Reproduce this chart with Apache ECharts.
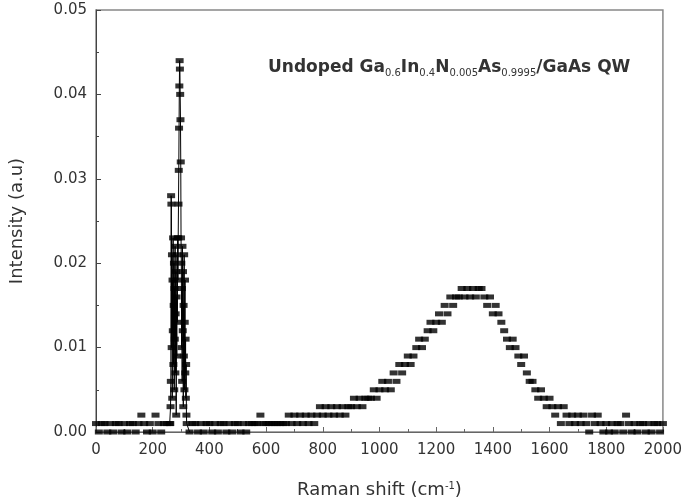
<!DOCTYPE html>
<html>
<head>
<meta charset="utf-8">
<script src="https://cdn.jsdelivr.net/npm/echarts@6/dist/echarts.min.js"></script>
<style>
  html, body { margin: 0; padding: 0; background: #fff; }
  #chart { width: 685px; height: 504px; }
</style>
</head>
<body>
<div id="chart"></div>
<script>
// Raman shift (cm-1)
const ramanShift = [
  // baseline 0-260
  0, 10, 20, 30, 40, 50, 60, 70, 80, 90, 100, 110, 120, 130, 140, 150, 160, 170, 180, 190,
  200, 210, 220, 230, 240, 250, 260,
  // GaAs LO peak
  262, 263, 264, 265, 266, 267, 268, 269, 270, 271, 272, 273, 274, 275, 276, 277, 278, 279, 280,
  281, 282, 283, 284, 285, 286, 287, 288, 289, 290, 291, 292, 293, 294, 295, 296, 297, 298, 299, 300,
  301, 302, 303, 304, 305, 306, 307, 308, 309, 310, 311, 312, 313, 314, 315, 316, 317, 318, 319, 320,
  // baseline 330-660
  330, 340, 350, 360, 370, 380, 390, 400, 410, 420, 430, 440, 450, 460, 470, 480, 490, 500,
  510, 520, 530, 540, 550, 560, 570, 580, 590, 600, 610, 620, 630, 640, 650, 660,
  // broad band
  670, 680, 690, 700, 710, 720, 730, 740, 750, 760, 770, 780, 790, 800, 810, 820, 830, 840, 850, 860,
  870, 880, 890, 900, 910, 920, 930, 940, 950, 960, 970, 980, 990, 1000, 1010, 1020, 1030, 1040, 1050, 1060,
  1070, 1080, 1090, 1100, 1110, 1120, 1130, 1140, 1150, 1160, 1170, 1180, 1190, 1200, 1210, 1220, 1230, 1240, 1250, 1260,
  1270, 1280, 1290, 1300, 1310, 1320, 1330, 1340, 1350, 1360, 1370, 1380, 1390, 1400, 1410, 1420, 1430, 1440, 1450, 1460,
  1470, 1480, 1490, 1500, 1510, 1520, 1530, 1540, 1550, 1560, 1570, 1580, 1590, 1600, 1610, 1620, 1630, 1640, 1650, 1660,
  1670, 1680, 1690, 1700, 1710, 1720, 1730, 1740, 1750, 1760, 1770, 1780, 1790, 1800,
  // baseline 1810-2000
  1810, 1820, 1830, 1840, 1850, 1860, 1870, 1880, 1890, 1900, 1910, 1920, 1930, 1940, 1950, 1960, 1970, 1980, 1990, 2000
];

// Intensity (a.u)
const intensity = [
  0.001, 0, 0.001, 0.001, 0, 0.001, 0, 0.001, 0.001, 0, 0.001, 0, 0.001, 0.001, 0, 0.001, 0.002, 0.001, 0, 0.001,
  0, 0.002, 0.001, 0, 0.001, 0.001, 0.001,

  0.001, 0.003, 0.006, 0.028, 0.027, 0.010, 0.021, 0.004, 0.018, 0.012, 0.023, 0.008, 0.015, 0.020, 0.005, 0.017, 0.011, 0.022, 0.007,
  0.014, 0.019, 0.002, 0.016, 0.009, 0.021, 0.013, 0.023, 0.018, 0.023, 0.027, 0.031, 0.036, 0.041, 0.044, 0.043, 0.040, 0.037, 0.032, 0.023,
  0.020, 0.010, 0.017, 0.006, 0.022, 0.012, 0.019, 0.003, 0.015, 0.009, 0.021, 0.005, 0.013, 0.018, 0.007, 0.011, 0.004, 0.008, 0.002, 0.001,

  0, 0.001, 0.001, 0, 0.001, 0, 0.001, 0.001, 0, 0.001, 0, 0.001, 0.001, 0, 0.001, 0, 0.001, 0.001,
  0, 0.001, 0, 0.001, 0.001, 0.001, 0.001, 0.002, 0.001, 0.001, 0.001, 0.001, 0.001, 0.001, 0.001, 0.001,

  0.001, 0.002, 0.001, 0.002, 0.001, 0.002, 0.001, 0.002, 0.001, 0.002, 0.001, 0.002, 0.003, 0.002, 0.003, 0.002, 0.003, 0.002, 0.003, 0.002,
  0.003, 0.002, 0.003, 0.003, 0.004, 0.003, 0.004, 0.003, 0.004, 0.004, 0.004, 0.005, 0.004, 0.005, 0.006, 0.005, 0.006, 0.005, 0.007, 0.006,
  0.008, 0.007, 0.008, 0.009, 0.008, 0.009, 0.010, 0.011, 0.010, 0.011, 0.012, 0.013, 0.012, 0.013, 0.014, 0.013, 0.015, 0.014, 0.016, 0.015,
  0.016, 0.016, 0.017, 0.016, 0.017, 0.016, 0.017, 0.016, 0.017, 0.017, 0.016, 0.015, 0.016, 0.014, 0.015, 0.014, 0.013, 0.012, 0.011, 0.010,
  0.011, 0.010, 0.009, 0.008, 0.009, 0.007, 0.006, 0.006, 0.005, 0.004, 0.005, 0.004, 0.003, 0.004, 0.003, 0.002, 0.003, 0.001, 0.003, 0.002,
  0.001, 0.002, 0.001, 0.002, 0.001, 0.002, 0.001, 0, 0.002, 0.001, 0.002, 0.001, 0, 0.001,

  0, 0.001, 0, 0.001, 0.001, 0, 0.002, 0.001, 0, 0.001, 0, 0.001, 0.001, 0, 0.001, 0, 0.001, 0.001, 0, 0.001
];

const xTicks = [0, 200, 400, 600, 800, 1000, 1200, 1400, 1600, 1800, 2000];
const yTicks = ['0.00', '0.01', '0.02', '0.03', '0.04', '0.05'];

const points = ramanShift.map((x, i) => [x, intensity[i]]);
// the thin connecting line is only visible around the sharp LO peak
const peakLine = points.filter(p => p[0] >= 260 && p[0] <= 330);

const chart = echarts.init(document.getElementById('chart'));
const font = 'DejaVu Sans, Verdana, sans-serif';
const labelFont = { fontFamily: font, color: '#333', fontSize: 15 };

chart.setOption({
  animation: false,
  backgroundColor: '#fff',
  title: {
    left: 263,
    top: 53,
    text: 'Undoped Ga{s|0.6}In{s|0.4}N{s|0.005}As{s|0.9995}/GaAs QW',
    textStyle: {
      fontFamily: font,
      fontSize: 17,
      fontWeight: 'bold',
      color: '#333',
      lineHeight: 20,
      rich: {
        s: { fontFamily: font, fontSize: 10, fontWeight: 'normal', color: '#333', lineHeight: 10, verticalAlign: 'bottom', padding: [5, 0, 0, 0] }
      }
    }
  },
  grid: {
    left: 92, right: 22, top: 10, bottom: 70,
    show: true, borderColor: '#888', borderWidth: 1.5
  },
  xAxis: {
    type: 'value',
    min: 0, max: 2000, interval: 200,
    name: 'Raman shift (cm{sup|-1})',
    nameLocation: 'middle',
    nameGap: 49,
    nameTextStyle: {
      fontFamily: font, fontSize: 18, color: '#333',
      rich: { sup: { fontFamily: font, fontSize: 10, color: '#333', verticalAlign: 'top', padding: [0, 0, 8, 0] } }
    },
    axisLine: { lineStyle: { color: '#666', width: 1 } },
    axisTick: { inside: true, length: 5, lineStyle: { color: '#666' } },
    minorTick: { show: true, splitNumber: 2, length: 3, lineStyle: { color: '#666' } },
    splitLine: { show: false },
    axisLabel: Object.assign({ margin: 11, formatter: v => xTicks.includes(v) ? String(v) : '' }, labelFont)
  },
  yAxis: {
    type: 'value',
    min: 0, max: 0.05, interval: 0.01,
    name: 'Intensity (a.u)',
    nameLocation: 'middle',
    nameGap: 70,
    nameTextStyle: { fontFamily: font, fontSize: 18, color: '#333' },
    axisLine: { show: true, lineStyle: { color: '#444', width: 1 } },
    axisTick: { inside: true, length: 5, lineStyle: { color: '#444' } },
    minorTick: { show: true, splitNumber: 2, length: 3, lineStyle: { color: '#444' } },
    splitLine: { show: false },
    axisLabel: Object.assign({ margin: 9, formatter: v => yTicks[Math.round(v * 100)] }, labelFont)
  },
  series: [
    {
      type: 'line',
      data: peakLine,
      showSymbol: false,
      symbol: 'none',
      lineStyle: { color: '#000', width: 1 },
      z: 2
    },
    {
      type: 'scatter',
      data: points,
      symbol: 'rect',
      symbolSize: [8, 5],
      itemStyle: { color: '#000' },
      z: 3
    }
  ]
});
</script>
</body>
</html>
